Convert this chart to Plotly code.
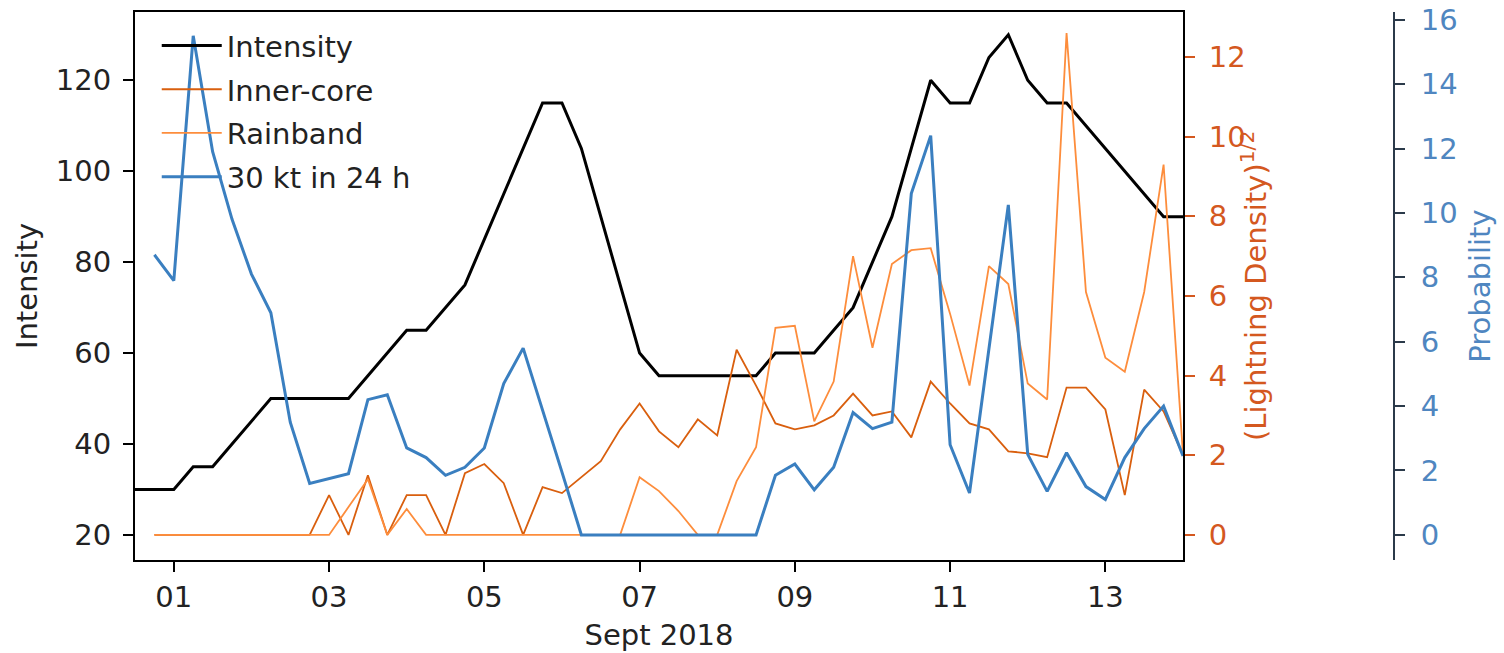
import plotly.graph_objects as go
import pandas as pd

# ---- data (6-hourly, starting 2018-08-31 12:00) ----
times = pd.date_range("2018-08-31 12:00", "2018-09-14 00:00", freq="6h")

intensity = [30, 30, 30, 35, 35, 40, 45, 50, 50, 50, 50, 50, 55, 60, 65, 65, 70, 75,
             85, 95, 105, 115, 115, 105, 90, 75, 60, 55, 55, 55, 55, 55, 55, 60, 60, 60,
             65, 70, 80, 90, 105, 120, 115, 115, 125, 130, 120, 115, 115, 110, 105, 100,
             95, 90, 90]

# series below start at 2018-08-31 18:00
inner_core = [0, 0, 0, 0, 0, 0, 0, 0, 0, 1.0, 0, 1.5, 0, 1.0, 1.0, 0, 1.55, 1.78,
              1.3, 0, 1.2, 1.05, 1.45, 1.85, 2.65, 3.3, 2.6, 2.2, 2.9, 2.5, 4.65, 3.75,
              2.8, 2.65, 2.75, 3.0, 3.55, 3.0, 3.1, 2.45, 3.85, 3.3, 2.8, 2.65, 2.1, 2.05,
              1.95, 3.7, 3.7, 3.15, 1.0, 3.65, 3.1, 2.0]

rainband = [0, 0, 0, 0, 0, 0, 0, 0, 0, 0, 0.7, 1.4, 0, 0.65, 0, 0, 0, 0,
            0, 0, 0, 0, 0, 0, 0, 1.45, 1.1, 0.6, 0, 0, 1.35, 2.2,
            5.2, 5.25, 2.85, 3.85, 7.0, 4.7, 6.8, 7.15, 7.2, 5.55, 3.75, 6.75, 6.3, 3.8,
            3.4, 12.6, 6.1, 4.45, 4.1, 6.1, 9.3, 2.0]

probability = [8.7, 7.9, 15.5, 11.9, 9.8, 8.1, 6.9, 3.5, 1.6, 1.75, 1.9, 4.2, 4.35, 2.7,
               2.4, 1.85, 2.1, 2.7, 4.7, 5.8, 3.9, 1.95, 0, 0, 0, 0, 0, 0, 0, 0, 0, 0,
               1.85, 2.2, 1.4, 2.1, 3.8, 3.3, 3.5, 10.6, 12.4, 2.8, 1.3, 5.8, 10.25, 2.5,
               1.35, 2.55, 1.5, 1.1, 2.4, 3.3, 4.0, 2.45]

tick_dates = ["2018-09-01", "2018-09-03", "2018-09-05", "2018-09-07",
              "2018-09-09", "2018-09-11", "2018-09-13"]
tick_labels = ["01", "03", "05", "07", "09", "11", "13"]

times2 = times[1:]

BLACK = "#000000"
INNER = "#d95f0e"
RAIN = "#fd8d3c"
BLUE = "#3a7fc0"
ORANGE_TXT = "#d4581f"
BLUE_TXT = "#4f86c0"
FONT = "DejaVu Sans"
FS = 29

fig = go.Figure()
fig.add_trace(go.Scatter(x=times, y=intensity, mode="lines", name="Intensity",
                         line=dict(color=BLACK, width=3), yaxis="y", legendgroup="a"))
fig.add_trace(go.Scatter(x=times2, y=inner_core, mode="lines", name="Inner-core",
                         line=dict(color=INNER, width=1.8), yaxis="y2", legendgroup="b"))
fig.add_trace(go.Scatter(x=times2, y=rainband, mode="lines", name="Rainband",
                         line=dict(color=RAIN, width=1.8), yaxis="y2", legendgroup="c"))
fig.add_trace(go.Scatter(x=times2, y=probability, mode="lines", name="30 kt in 24 h",
                         line=dict(color=BLUE, width=3), yaxis="y3", legendgroup="d"))

W, H = 1504, 653
ml, mt, mr = 135, 12, 10
mb = H - 560
pw = W - ml - mr
xdom_end = (1183 - ml) / pw
y3pos = (1394 - ml) / pw
orange_title_x = (1254 - ml) / pw

fig.update_layout(
    width=W, height=H,
    margin=dict(l=ml, r=mr, t=mt, b=mb),
    paper_bgcolor="white", plot_bgcolor="white",
    font=dict(family=FONT, size=FS, color="#222"),
    showlegend=True,
    legend=dict(x=0.016, y=0.985, xanchor="left", yanchor="top",
                bgcolor="rgba(0,0,0,0)", font=dict(size=FS, color="#222"),
                tracegroupgap=3, itemwidth=60),
    xaxis=dict(domain=[0, xdom_end], type="date",
               range=["2018-08-31 12:00", "2018-09-14 00:00"],
               tickvals=tick_dates, ticktext=tick_labels,
               showgrid=False, zeroline=False,
               showline=True, linecolor="black", linewidth=2, mirror=True,
               ticks="outside", ticklen=10, tickwidth=2, tickcolor="black",
               ticklabeloverflow="allow",
               title=dict(text="Sept 2018", standoff=12, font=dict(size=FS)),
               automargin=False),
    yaxis=dict(range=[14.5, 135.0], tickvals=[20, 40, 60, 80, 100, 120],
               showgrid=False, zeroline=False,
               showline=True, linecolor="black", linewidth=2,
               ticks="outside", ticklen=10, tickwidth=2, tickcolor="black",
               ticklabelstandoff=6, ticklabeloverflow="allow",
               title=dict(text="Intensity", standoff=10, font=dict(size=FS)),
               automargin=False),
    yaxis2=dict(range=[-0.63, 13.13], tickvals=[0, 2, 4, 6, 8, 10, 12],
                overlaying="y", side="right", anchor="x",
                showgrid=False, zeroline=False,
                showline=True, linecolor="black", linewidth=2,
                ticks="outside", ticklen=10, tickwidth=2, tickcolor=ORANGE_TXT,
                tickfont=dict(color=ORANGE_TXT, size=FS), ticklabelstandoff=8,
                ticklabeloverflow="allow",
                automargin=False),
    yaxis3=dict(range=[-0.78, 16.24], tickvals=[0, 2, 4, 6, 8, 10, 12, 14, 16],
                overlaying="y", side="right", anchor="free", position=y3pos,
                showgrid=False, zeroline=False,
                showline=True, linecolor="#2b3a4a", linewidth=2,
                ticks="outside", ticklen=10, tickwidth=2, tickcolor="#2b3a4a",
                tickfont=dict(color=BLUE_TXT, size=FS), ticklabelstandoff=10,
                ticklabeloverflow="allow",
                title=dict(text="Probability", standoff=12,
                           font=dict(color=BLUE_TXT, size=FS)),
                automargin=False),
    annotations=[dict(text="(Lightning Density)<sup>1/2</sup>", textangle=-90,
                      xref="paper", yref="paper", x=orange_title_x, y=0.5,
                      xanchor="center", yanchor="middle", showarrow=False,
                      font=dict(color=ORANGE_TXT, size=FS))],
)

fig.write_html("out.html", config={"displayModeBar": False},
               post_script="document.body.style.margin='0';")
